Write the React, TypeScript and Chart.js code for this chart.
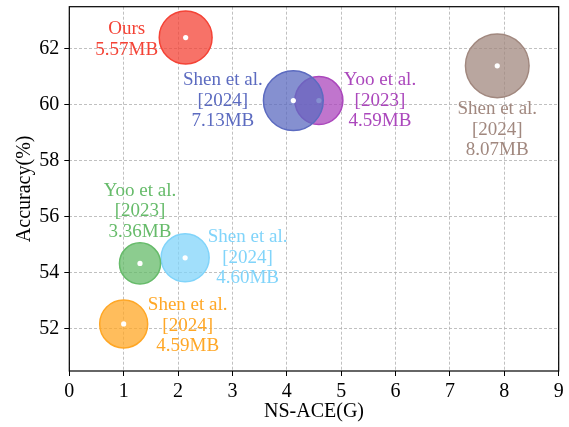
import React, { useEffect, useRef } from "react";
import { Chart, registerables } from "chart.js";

Chart.register(...registerables);

const authors = ["Ours", "Shen et al.", "Yoo et al.", "Shen et al.", "Yoo et al.", "Shen et al.", "Shen et al."];
const years = ["", "[2024]", "[2023]", "[2024]", "[2023]", "[2024]", "[2024]"];
const nsAce = [2.14, 4.12, 4.59, 7.87, 1.3, 2.13, 1.0];
const accuracy = [62.4, 60.15, 60.15, 61.39, 54.34, 54.54, 52.18];
const sizeMB = [5.57, 7.13, 4.59, 8.07, 3.36, 4.6, 4.59];
const colors = ["#F44336", "#5C6BC0", "#AB47BC", "#A1887F", "#66BB6A", "#81D4FA", "#FFA726"];
const labelOffsets = [[-59, 2], [-70.5, 0], [61, 0], [0, 64], [0, -52], [62.5, 0], [64, 2]];
const xTicks = [0, 1, 2, 3, 4, 5, 6, 7, 8, 9];
const yTicks = [52, 54, 56, 58, 60, 62];

const FONT = "'Liberation Serif', 'Times New Roman', serif";
const RADIUS_SCALE = 11.2;

function hexA(hex: string, a: number) {
  const n = parseInt(hex.slice(1), 16);
  return `rgba(${(n >> 16) & 255},${(n >> 8) & 255},${n & 255},${a})`;
}

const dotPlugin = {
  id: "centerDots",
  afterDatasetDraw(chart: any, args: any) {
    const ctx = chart.ctx;
    const meta = args.meta;
    ctx.save();
    ctx.fillStyle = "#ffffff";
    meta.data.forEach((el: any) => {
      ctx.beginPath();
      ctx.arc(el.x, el.y, 2.6, 0, Math.PI * 2);
      ctx.fill();
    });
    ctx.restore();
  },
};

const labelPlugin = {
  id: "bubbleLabels",
  afterDatasetsDraw(chart: any) {
    const ctx = chart.ctx;
    ctx.save();
    ctx.font = `19px ${FONT}`;
    ctx.textAlign = "center";
    ctx.textBaseline = "middle";
    chart.data.datasets.forEach((ds: any, i: number) => {
      const el = chart.getDatasetMeta(i).data[0];
      if (!el) return;
      const lines = [authors[i]];
      if (years[i]) lines.push(years[i]);
      lines.push(sizeMB[i].toFixed(2) + "MB");
      const lh = 20.5;
      const cx = el.x + labelOffsets[i][0];
      const cy = el.y + labelOffsets[i][1];
      const start = cy - ((lines.length - 1) * lh) / 2;
      ctx.fillStyle = colors[i];
      lines.forEach((t, k) => ctx.fillText(t, cx, start + k * lh));
    });
    ctx.restore();
  },
};

const framePlugin = {
  id: "frame",
  afterDraw(chart: any) {
    const { left, top, right, bottom } = chart.chartArea;
    const ctx = chart.ctx;
    ctx.save();
    ctx.strokeStyle = "#000";
    ctx.lineWidth = 1.2;
    ctx.strokeRect(left, top, right - left, bottom - top);
    ctx.restore();
  },
};

export default function App() {
  const ref = useRef<HTMLCanvasElement | null>(null);
  useEffect(() => {
    if (!ref.current) return;
    const datasets = authors.map((a, i) => ({
      label: `${a} ${years[i]}`,
      data: [{ x: nsAce[i], y: accuracy[i], r: RADIUS_SCALE * Math.sqrt(sizeMB[i]) }],
      backgroundColor: hexA(colors[i], 0.75),
      borderColor: colors[i],
      borderWidth: 1.5,
    }));
    const gridCommon = {
      color: "#b0b0b0",
      lineWidth: 0.8,
      drawTicks: true,
      tickLength: 5,
      tickColor: "#000",
      tickWidth: 1,
      tickBorderDash: [],
    };
    const chart = new Chart(ref.current, {
      type: "bubble",
      data: { datasets },
      plugins: [dotPlugin, labelPlugin, framePlugin],
      options: {
        animation: false,
        responsive: true,
        maintainAspectRatio: false,
        layout: { autoPadding: false, padding: { top: 6.7, right: 10.3, left: 0, bottom: 0 } },
        plugins: { legend: { display: false }, tooltip: { enabled: false } },
        scales: {
          x: {
            type: "linear",
            position: "bottom",
            min: 0,
            max: 9,
            afterBuildTicks: (s: any) => {
              s.ticks = xTicks.map((v) => ({ value: v }));
            },
            afterFit: (s: any) => {
              s.height = 56;
              s.paddingLeft = 0;
              s.paddingRight = 0;
              s.paddingTop = 0;
              s.paddingBottom = 0;
            },
            ticks: { color: "#000", font: { family: FONT, size: 20 }, padding: 4, maxRotation: 0 },
            grid: gridCommon,
            border: { display: false, dash: [3, 2] },
            title: {
              display: true,
              text: "NS-ACE(G)",
              color: "#000",
              font: { family: FONT, size: 20 },
              padding: { top: 0, bottom: 3 },
            },
          },
          y: {
            type: "linear",
            min: 50.5,
            max: 63.5,
            afterBuildTicks: (s: any) => {
              s.ticks = yTicks.map((v) => ({ value: v }));
            },
            afterFit: (s: any) => {
              s.width = 69.3;
              s.paddingLeft = 0;
              s.paddingRight = 0;
              s.paddingTop = 0;
              s.paddingBottom = 0;
            },
            ticks: { color: "#000", font: { family: FONT, size: 20 }, padding: 5 },
            grid: gridCommon,
            border: { display: false, dash: [3, 2] },
            title: {
              display: true,
              text: "Accuracy(%)",
              color: "#000",
              font: { family: FONT, size: 20 },
              padding: { top: 13, bottom: 0 },
            },
          },
        },
      } as any,
    });
    return () => chart.destroy();
  }, []);
  return (
    <div style={{ position: "fixed", left: 0, top: 0, width: 569, height: 427 }}>
      <canvas ref={ref} />
    </div>
  );
}
